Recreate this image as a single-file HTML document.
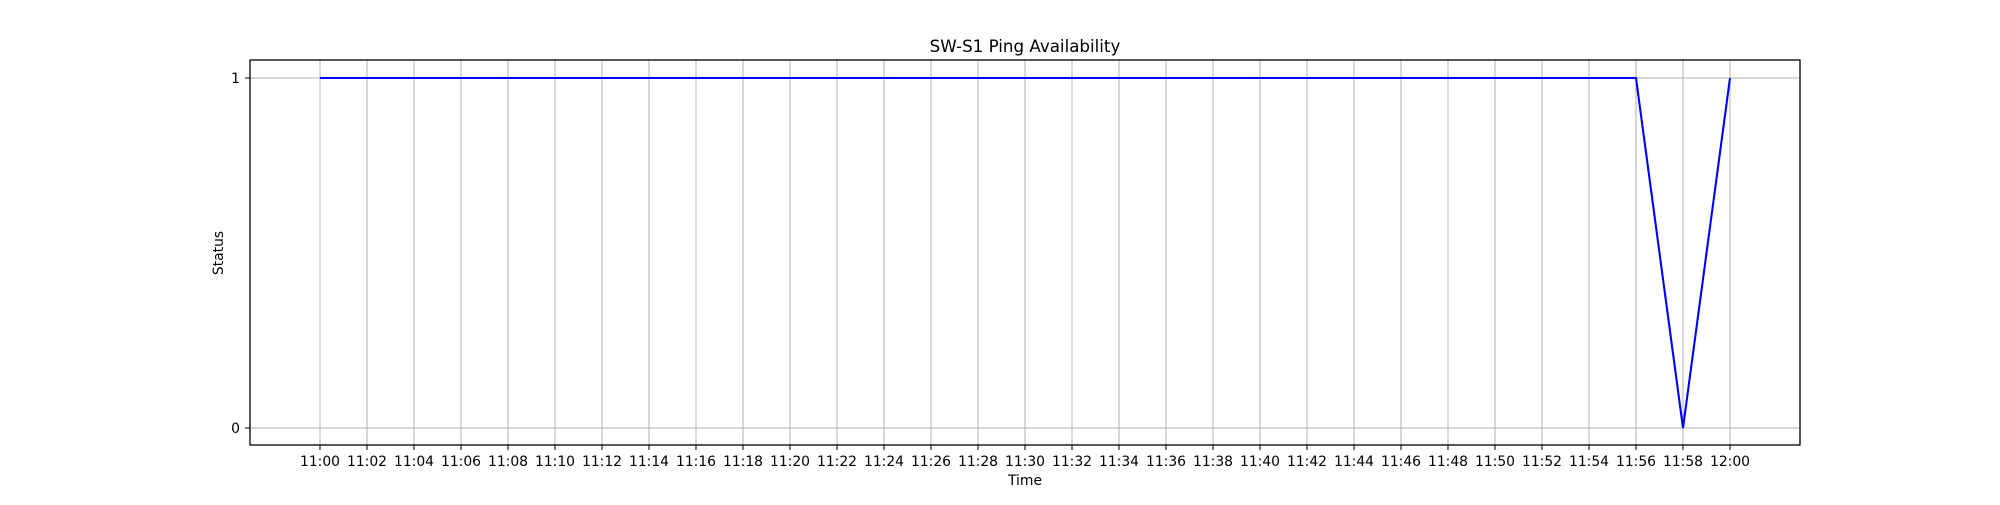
<!DOCTYPE html>
<html><head><meta charset="utf-8"><style>
body{margin:0;background:#fff;}
svg text{font-family:"DejaVu Sans","Liberation Sans",sans-serif;fill:#000;}
</style></head><body>
<svg id="chart" width="2000" height="500" xmlns="http://www.w3.org/2000/svg">
<text x="1025" y="52" font-size="16.7" text-anchor="middle">SW-S1 Ping Availability</text>
<g id="grid"></g>
<g id="ticks"></g>
<polyline id="series" fill="none" stroke="#0000ff" stroke-width="2.1" stroke-linejoin="miter"/>
<rect x="250" y="60" width="1550" height="385" fill="none" stroke="#000" stroke-width="1.3"/>
<text x="1025" y="485" font-size="13.9" text-anchor="middle">Time</text>
<text transform="translate(223,253) rotate(-90)" font-size="13.9" text-anchor="middle">Status</text>
</svg>
<script>
const times = [0,2,4,6,8,10,12,14,16,18,20,22,24,26,28,30,32,34,36,38,40,42,44,46,48,50,52,54,56,58,60];
const statuses = [1,1,1,1,1,1,1,1,1,1,1,1,1,1,1,1,1,1,1,1,1,1,1,1,1,1,1,1,1,0,1];
const xTickMinutes = [0,2,4,6,8,10,12,14,16,18,20,22,24,26,28,30,32,34,36,38,40,42,44,46,48,50,52,54,56,58,60];
const yTicks = [0,1];
const NS="http://www.w3.org/2000/svg";
const x = m => 320 + (m/60)*1410;
const y = v => 428 - v*350;
function lbl(m){const h=11+Math.floor(m/60), mm=m%60;return h+":"+String(mm).padStart(2,"0");}
const grid=document.getElementById('grid'), ticks=document.getElementById('ticks');
function mk(tag,attrs,parent){const e=document.createElementNS(NS,tag);for(const k in attrs)e.setAttribute(k,attrs[k]);parent.appendChild(e);return e;}
xTickMinutes.forEach(m=>{
  const gx=x(m);
  const g=mk('line',{x1:gx,x2:gx,y1:60,y2:445,stroke:'#b0b0b0','stroke-width':1},grid);
  
  
  const t=mk('line',{x1:gx,x2:gx,y1:445,y2:450,stroke:'#000','stroke-width':1},ticks);
  
  
  const tx=mk('text',{x:gx,y:466,'font-size':13.9,'text-anchor':'middle'},ticks);
  tx.textContent=lbl(m);
  
  
});
yTicks.forEach(v=>{
  const gy=y(v);
  const g=mk('line',{x1:250,x2:1800,y1:gy,y2:gy,stroke:'#b0b0b0','stroke-width':1},grid);
  
  
  const t=mk('line',{x1:245,x2:250,y1:gy,y2:gy,stroke:'#000','stroke-width':1},ticks);
  
  
  const tx=mk('text',{x:240,y:gy+5,'font-size':13.9,'text-anchor':'end'},ticks);
  tx.textContent=v;
  
  
});
document.getElementById('series').setAttribute('points',times.map((m,i)=>x(m)+","+y(statuses[i])).join(" "));
</script>
</body></html>
